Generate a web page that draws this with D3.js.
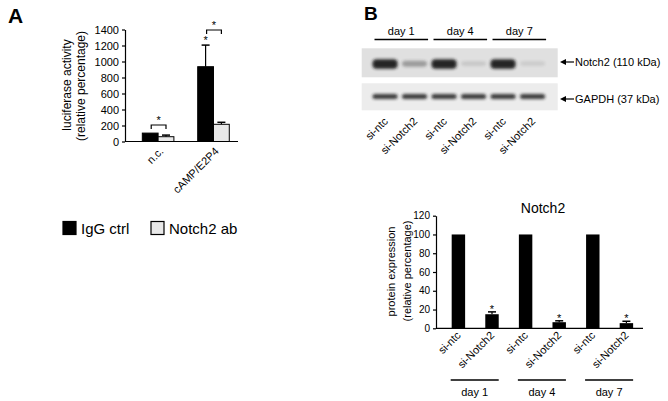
<!DOCTYPE html>
<html>
<head>
<meta charset="utf-8">
<script src="https://cdn.jsdelivr.net/npm/d3@7"></script>
<style>
  body { margin: 0; background: #fff; }
  svg { display: block; font-family: "Liberation Sans", Arial, sans-serif; }
</style>
</head>
<body>
<svg width="668" height="401"></svg>
<script>
// panel A: luciferase assay
const groupsA = ["n.c.", "cAMP/E2P4"];
const iggCtrl = [105, 935];
const iggCtrlErr = [0, 270];
const notch2Ab = [60, 215];
const notch2AbErr = [20, 25];
const ticksA = [0, 200, 400, 600, 800, 1000, 1200, 1400];

// panel B: blot + quantification
const days = ["day 1", "day 4", "day 7"];
const lanes = ["si-ntc", "si-Notch2", "si-ntc", "si-Notch2", "si-ntc", "si-Notch2"];
const notch2Band = [0.95, 0.35, 0.95, 0.12, 0.95, 0.1];
const gapdhBand = [0.85, 0.85, 0.85, 0.85, 0.85, 0.85];
const protein = [100, 15, 100, 6.5, 100, 5.5];
const proteinErr = [0, 2.5, 0, 1.5, 0, 2];
const ticksB = [0, 20, 40, 60, 80, 100, 120];

const svg = d3.select("svg");

// panel letters
svg.append("text").attr("x", 8).attr("y", 23).attr("font-size", 21).attr("font-weight", "bold").text("A");
svg.append("text").attr("x", 364).attr("y", 20).attr("font-size", 19).attr("font-weight", "bold").text("B");

/* ---------- A ---------- */
const yA = d3.scaleLinear().domain([0, 1400]).range([141.5, 29.5]);
const xA = d3.scaleBand().domain(groupsA).range([125.7, 245.9]).paddingInner(0.43).paddingOuter(0.3);
const subA = d3.scaleBand().domain([0, 1]).range([0, xA.bandwidth()]);

const gA = svg.append("g");
gA.append("g")
  .attr("transform", "translate(125,0)")
  .call(d3.axisLeft(yA).tickValues(ticksA).tickFormat(d3.format("d")).tickSize(3).tickSizeOuter(0))
  .call(g => g.selectAll("text").attr("font-size", 11).attr("fill", "#000").attr("font-family", null))
  .call(g => g.selectAll("path,line").attr("stroke", "#000").attr("stroke-width", 1.2));
gA.append("line").attr("x1", 125).attr("x2", 238).attr("y1", yA(0)).attr("y2", yA(0))
  .attr("stroke", "#000").attr("stroke-width", 1.2);

const seriesA = [
  { vals: iggCtrl, err: iggCtrlErr, fill: "#000" },
  { vals: notch2Ab, err: notch2AbErr, fill: "#e8e8e8" }
];
seriesA.forEach((s, k) => {
  groupsA.forEach((g, i) => {
    const x0 = xA(g) + subA(k);
    const w = subA.bandwidth();
    if (s.err[i] > 0) {
      const cx = x0 + w / 2;
      gA.append("line").attr("x1", cx).attr("x2", cx).attr("y1", yA(s.vals[i])).attr("y2", yA(s.vals[i] + s.err[i]))
        .attr("stroke", "#000").attr("stroke-width", 1.2);
      gA.append("line").attr("x1", cx - 4).attr("x2", cx + 4).attr("y1", yA(s.vals[i] + s.err[i])).attr("y2", yA(s.vals[i] + s.err[i]))
        .attr("stroke", "#000").attr("stroke-width", 1.5);
    }
    gA.append("rect").attr("x", x0).attr("width", w).attr("y", yA(s.vals[i]))
      .attr("height", yA(0) - yA(s.vals[i])).attr("fill", s.fill).attr("stroke", "#000").attr("stroke-width", 1);
  });
});

// significance brackets
const bracketY = [125, 30];
groupsA.forEach((g, i) => {
  const xa = xA(g) + subA.bandwidth() / 2 + 1;
  const xb = xA(g) + subA(1) + subA.bandwidth() / 2;
  const y = bracketY[i];
  gA.append("path").attr("d", `M${xa},${y + 4}V${y}H${xb}V${y + 4}`)
    .attr("fill", "none").attr("stroke", "#000").attr("stroke-width", 1.2);
  gA.append("text").attr("x", (xa + xb) / 2).attr("y", y - 1).attr("text-anchor", "middle").attr("font-size", 11).text("*");
});
gA.append("text").attr("x", xA(groupsA[1]) + subA.bandwidth() / 2).attr("y", yA(iggCtrl[1] + iggCtrlErr[1]) - 1)
  .attr("text-anchor", "middle").attr("font-size", 11).text("*");

groupsA.forEach(g => {
  const ax = xA(g) + xA.bandwidth() / 2 + 6;
  gA.append("text").attr("transform", `translate(${ax},152) rotate(-45)`)
    .attr("text-anchor", "end").attr("font-size", 11).text(g);
});

gA.append("text").attr("transform", "translate(70.5,85) rotate(-90)").attr("text-anchor", "middle")
  .attr("font-size", 12).text("luciferase activity");
gA.append("text").attr("transform", "translate(84.5,86) rotate(-90)").attr("text-anchor", "middle")
  .attr("font-size", 12).text("(relative percentage)");

// legend
const legend = [{ name: "IgG ctrl", fill: "#000", x: 63 }, { name: "Notch2 ab", fill: "#e8e8e8", x: 151 }];
legend.forEach(d => {
  gA.append("rect").attr("x", d.x).attr("y", 221.5).attr("width", 13).attr("height", 13)
    .attr("fill", d.fill).attr("stroke", "#000").attr("stroke-width", 1.2);
  gA.append("text").attr("x", d.x + 18).attr("y", 233.5).attr("font-size", 15).text(d.name);
});

/* ---------- B: blot ---------- */
const defs = svg.append("defs");
defs.append("filter").attr("id", "blur").attr("x", "-30%").attr("y", "-100%").attr("width", "160%").attr("height", "300%")
  .append("feGaussianBlur").attr("stdDeviation", "1.8 1.4");

const xL = d3.scaleBand().domain(d3.range(6)).range([372.5, 545.1]).paddingInner(0.15);
const gB = svg.append("g");

days.forEach((d, i) => {
  const x1 = xL(2 * i) + 2, x2 = xL(2 * i + 1) + xL.bandwidth() + 1;
  gB.append("line").attr("x1", x1).attr("x2", x2).attr("y1", 39.5).attr("y2", 39.5).attr("stroke", "#000").attr("stroke-width", 1.5);
  gB.append("text").attr("x", (x1 + x2) / 2).attr("y", 35).attr("text-anchor", "middle").attr("font-size", 11).text(d);
});

gB.append("rect").attr("x", 361.7).attr("y", 48.3).attr("width", 196).attr("height", 29).attr("fill", "#e0e0e0");
gB.append("rect").attr("x", 361.7).attr("y", 83.3).attr("width", 196).attr("height", 27).attr("fill", "#ececec");

lanes.forEach((l, i) => {
  gB.append("rect").attr("x", xL(i)).attr("y", 59 + (1 - notch2Band[i]) * 2.5).attr("width", xL.bandwidth())
    .attr("height", 4 + notch2Band[i] * 6).attr("rx", 4)
    .attr("fill", "#1a1a1a").attr("opacity", notch2Band[i]).attr("filter", "url(#blur)");
  gB.append("rect").attr("x", xL(i)).attr("y", 94).attr("width", xL.bandwidth())
    .attr("height", 5).attr("rx", 2.5)
    .attr("fill", "#1a1a1a").attr("opacity", gapdhBand[i]).attr("filter", "url(#blur)");
  const ax = xL(i) + xL.bandwidth() / 2 + 3.5;
  gB.append("text").attr("transform", `translate(${ax},122) rotate(-45)`)
    .attr("text-anchor", "end").attr("font-size", 11).text(l);
});

const markers = [{ name: "Notch2 (110 kDa)", y: 62 }, { name: "GAPDH (37 kDa)", y: 99 }];
markers.forEach(m => {
  gB.append("line").attr("x1", 563).attr("x2", 574).attr("y1", m.y).attr("y2", m.y).attr("stroke", "#000").attr("stroke-width", 1.2);
  gB.append("path").attr("d", `M560,${m.y}L566,${m.y - 3}L566,${m.y + 3}Z`).attr("fill", "#000");
  gB.append("text").attr("x", 575).attr("y", m.y + 4).attr("font-size", 11).text(m.name);
});

/* ---------- B: quantification ---------- */
const yB = d3.scaleLinear().domain([0, 120]).range([328.3, 215.7]);
const xB = d3.scaleBand().domain(d3.range(6)).range([441.6, 643.2]).paddingInner(0.6).paddingOuter(0.3);

gB.append("g")
  .attr("transform", "translate(436,0)")
  .call(d3.axisLeft(yB).tickValues(ticksB).tickSize(3).tickSizeOuter(0))
  .call(g => g.selectAll("text").attr("font-size", 10).attr("fill", "#000").attr("font-family", null))
  .call(g => g.selectAll("path,line").attr("stroke", "#000").attr("stroke-width", 1.2));
gB.append("line").attr("x1", 436).attr("x2", 643).attr("y1", yB(0)).attr("y2", yB(0)).attr("stroke", "#000").attr("stroke-width", 1.2);

protein.forEach((v, i) => {
  const cx = xB(i) + xB.bandwidth() / 2;
  if (proteinErr[i] > 0) {
    gB.append("line").attr("x1", cx).attr("x2", cx).attr("y1", yB(v)).attr("y2", yB(v + proteinErr[i])).attr("stroke", "#000").attr("stroke-width", 1.2);
    gB.append("line").attr("x1", cx - 4).attr("x2", cx + 4).attr("y1", yB(v + proteinErr[i])).attr("y2", yB(v + proteinErr[i])).attr("stroke", "#000").attr("stroke-width", 1.5);
    gB.append("text").attr("x", cx).attr("y", yB(v + proteinErr[i]) + 1).attr("text-anchor", "middle").attr("font-size", 11).text("*");
  }
  gB.append("rect").attr("x", xB(i)).attr("width", xB.bandwidth()).attr("y", yB(v)).attr("height", yB(0) - yB(v)).attr("fill", "#000");
  gB.append("text").attr("transform", `translate(${cx + 3},336) rotate(-45)`)
    .attr("text-anchor", "end").attr("font-size", 11).text(lanes[i]);
});

days.forEach((d, i) => {
  const x1 = xB(2 * i) - 1, x2 = xB(2 * i + 1) + xB.bandwidth();
  gB.append("line").attr("x1", x1).attr("x2", x2).attr("y1", 380).attr("y2", 380).attr("stroke", "#000").attr("stroke-width", 1.5);
  gB.append("text").attr("x", (x1 + x2) / 2).attr("y", 395.5).attr("text-anchor", "middle").attr("font-size", 11).text(d);
});

gB.append("text").attr("x", 543).attr("y", 213).attr("text-anchor", "middle").attr("font-size", 14).text("Notch2");
gB.append("text").attr("transform", "translate(394.5,271.5) rotate(-90)").attr("text-anchor", "middle")
  .attr("font-size", 11).text("protein expression");
gB.append("text").attr("transform", "translate(410.5,271) rotate(-90)").attr("text-anchor", "middle")
  .attr("font-size", 11).text("(relative percentage)");
</script>
</body>
</html>
